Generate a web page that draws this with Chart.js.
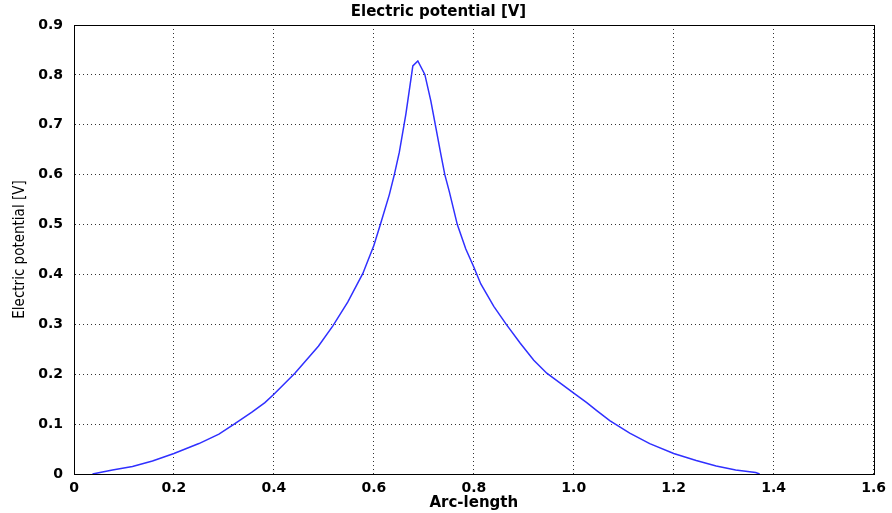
<!DOCTYPE html>
<html>
<head>
<meta charset="utf-8">
<script src="https://cdn.jsdelivr.net/npm/chart.js@4"></script>
<style>
  body { margin: 0; background: #fff; }
  #wrap { width: 892px; height: 513px; }
</style>
</head>
<body>
<div id="wrap"><canvas id="potential"></canvas></div>
<script>
// values
const arcLength = [0.037, 0.077, 0.117, 0.157, 0.2, 0.25, 0.29, 0.319, 0.356, 0.382, 0.4, 0.442,
  0.489, 0.518, 0.548, 0.578, 0.6, 0.613, 0.631, 0.641, 0.651, 0.664, 0.678, 0.688, 0.702,
  0.714, 0.724, 0.734, 0.742, 0.751, 0.767, 0.784, 0.8, 0.814, 0.84, 0.865, 0.893, 0.92,
  0.946, 1.0, 1.026, 1.046, 1.072, 1.112, 1.152, 1.2, 1.245, 1.285, 1.324, 1.364, 1.372];
const potential = [0, 0.008, 0.015, 0.026, 0.041, 0.061, 0.08, 0.099, 0.124, 0.143, 0.16, 0.202,
  0.256, 0.297, 0.345, 0.402, 0.458, 0.5, 0.56, 0.6, 0.645, 0.721, 0.818, 0.828, 0.801,
  0.748, 0.695, 0.641, 0.6, 0.566, 0.5, 0.451, 0.415, 0.381, 0.336, 0.3, 0.262, 0.228,
  0.202, 0.162, 0.143, 0.127, 0.107, 0.082, 0.061, 0.041, 0.027, 0.016, 0.008, 0.003, 0];

const chartTitle = 'Electric potential [V]';
const xTitle = 'Arc-length';
const yTitle = 'Electric potential [V]';

const points = arcLength.map((x, i) => ({ x: x, y: potential[i] }));

// solid frame round the plot area
const frame = {
  id: 'frame',
  afterDraw(chart) {
    const a = chart.chartArea, ctx = chart.ctx;
    ctx.save();
    ctx.strokeStyle = '#000';
    ctx.lineWidth = 1;
    ctx.strokeRect(Math.round(a.left) + 0.5, Math.round(a.top) + 0.5,
      Math.round(a.right - a.left), Math.round(a.bottom - a.top));
    ctx.restore();
  }
};

const tickFont = { family: 'DejaVu Sans', size: 14, weight: 'bold' };
const gridOpts = { color: '#333', lineWidth: 1, drawTicks: false };

new Chart(document.getElementById('potential'), {
  type: 'scatter',
  data: {
    datasets: [{
      data: points,
      showLine: true,
      borderColor: '#3030ff',
      borderWidth: 1.5,
      pointRadius: 0,
      tension: 0,
      fill: false
    }]
  },
  options: {
    responsive: true,
    maintainAspectRatio: false,
    animation: false,
    layout: { padding: { left: 0, right: 15, top: 0, bottom: 0 } },
    plugins: {
      legend: { display: false },
      tooltip: { enabled: false },
      title: {
        display: true,
        text: chartTitle,
        color: '#000',
        font: { family: 'DejaVu Sans', size: 15, weight: 'bold' },
        padding: { top: 3, bottom: 4 }
      }
    },
    scales: {
      x: {
        type: 'linear',
        min: 0, max: 1.6,
        ticks: { stepSize: 0.2, color: '#000', font: tickFont, padding: 6, maxRotation: 0 },
        grid: gridOpts,
        border: { display: true, color: '#000', width: 1, dash: [1, 3] },
        title: {
          display: true, text: xTitle, color: '#000',
          font: { family: 'DejaVu Sans', size: 15, weight: 'bold' },
          padding: { top: 0, bottom: 1 }
        },
        afterFit(scale) { scale.height = 39; }
      },
      y: {
        min: 0, max: 0.9,
        ticks: { stepSize: 0.1, color: '#000', font: tickFont, padding: 11 },
        grid: gridOpts,
        border: { display: true, color: '#000', width: 1, dash: [1, 3] },
        title: {
          display: true, text: yTitle, color: '#000',
          font: { family: 'DejaVu Sans Condensed', size: 15, weight: 'normal' },
          padding: { top: 11, bottom: 0 }
        },
        afterFit(scale) { scale.width = 74; }
      }
    }
  },
  plugins: [frame]
});
</script>
</body>
</html>
